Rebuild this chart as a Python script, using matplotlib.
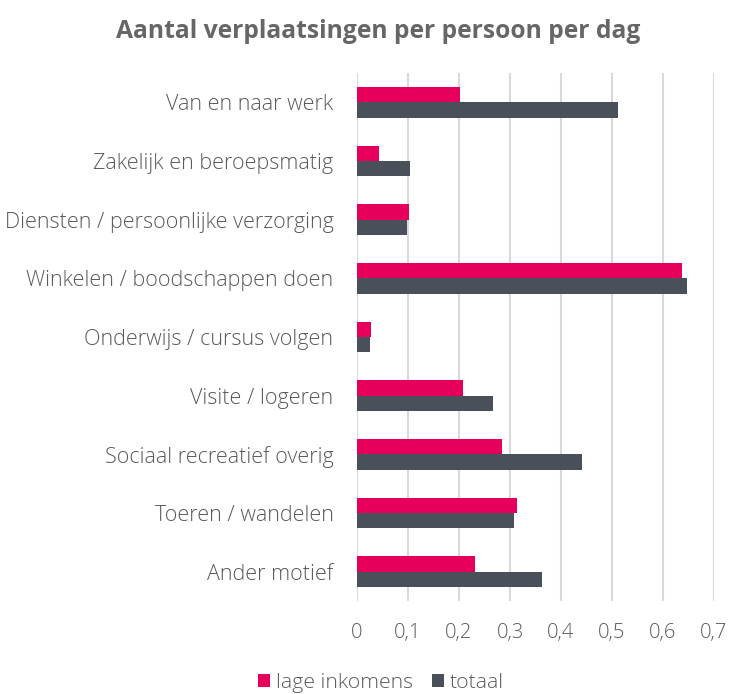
import numpy as np
import matplotlib.pyplot as plt
from matplotlib.ticker import FuncFormatter

categories = [
    "Van en naar werk",
    "Zakelijk en beroepsmatig",
    "Diensten / persoonlijke verzorging",
    "Winkelen / boodschappen doen",
    "Onderwijs / cursus volgen",
    "Visite / logeren",
    "Sociaal recreatief overig",
    "Toeren / wandelen",
    "Ander motief",
]
lage_inkomens = [0.202, 0.044, 0.101, 0.638, 0.027, 0.208, 0.285, 0.313, 0.231]
totaal = [0.511, 0.104, 0.099, 0.648, 0.025, 0.266, 0.441, 0.308, 0.363]
x_ticks = [0, 0.1, 0.2, 0.3, 0.4, 0.5, 0.6, 0.7]

plt.rcParams['font.family'] = ['Open Sans', 'DejaVu Sans']
plt.rcParams['font.weight'] = 'light'
text_color = '#595959'

fig = plt.figure(figsize=(7.31, 6.94), dpi=100)
ax = fig.add_axes([357 / 731, 1 - 601 / 694, (714 - 357) / 731, (601 - 73) / 694])

y = np.arange(len(categories))
h = 0.26
ax.barh(y - h / 2, lage_inkomens, height=h, color='#E6005C', label='lage inkomens', zorder=3)
ax.barh(y + h / 2, totaal, height=h, color='#4A5059', label='totaal', zorder=3)

ax.set_xlim(0, 0.7)
ax.set_ylim(len(categories) - 0.5, -0.5)
ax.set_xticks(x_ticks)
ax.xaxis.set_major_formatter(FuncFormatter(lambda v, p: ('%g' % round(v, 1)).replace('.', ',')))
ax.set_yticks(y)
ax.set_yticklabels(categories, fontsize=15.5)
ax.tick_params(axis='both', length=0, colors=text_color)
ax.tick_params(axis='x', labelsize=14.5, pad=15.5)
ax.tick_params(axis='y', pad=17)
ax.grid(axis='x', color='#D9D9D9', linewidth=1.5, zorder=0)
for s in ax.spines.values():
    s.set_visible(False)

fig.text(378 / 731, 1 - 31 / 694, "Aantal verplaatsingen per persoon per dag",
         ha='center', va='center', fontsize=17.7, fontweight='bold', color='#666666')

fig.legend(loc='center', bbox_to_anchor=(381 / 731, 1 - 683 / 694), ncol=2, frameon=False,
           fontsize=15.3, labelcolor=text_color, handlelength=0.55, handleheight=0.55,
           handletextpad=0.3, columnspacing=0.9)

fig.savefig('out.png', dpi=100)
